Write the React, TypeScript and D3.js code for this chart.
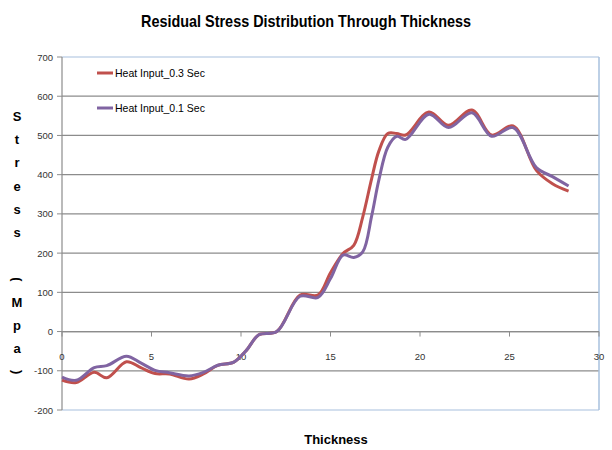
import React from "react";
import * as d3 from "d3";

const thickness = [0, 0.8, 1.8, 2.5, 3.6, 4.4, 5.2, 6.0, 7.1, 7.9, 8.7, 9.6, 10.3, 11.0, 12.0, 13.3, 14.3, 15.0, 15.7, 16.3, 16.8, 17.3, 17.7, 18.2, 18.7, 19.2, 20.5, 21.6, 22.9, 24.0, 25.2, 26.5, 27.4, 28.3];
const heat03 = [-124, -130, -104, -118, -77, -92, -107, -108, -121, -108, -86, -78, -48, -8, 0, 93, 93, 150, 199, 220, 292, 390, 460, 505, 505, 501, 560, 526, 565, 501, 524, 411, 377, 358];
const heat01 = [-116, -124, -92, -87, -63, -80, -99, -105, -113, -104, -86, -78, -48, -8, 0, 90, 87, 135, 195, 189, 203, 295, 386, 470, 498, 490, 554, 520, 558, 498, 520, 418, 395, 371];
const seriesNames = ["Heat Input_0.3 Sec", "Heat Input_0.1 Sec"];
const xTicks = [0, 5, 10, 15, 20, 25, 30];
const yTicks = [-200, -100, 0, 100, 200, 300, 400, 500, 600, 700];
const yTitleChars = ["S", "t", "r", "e", "s", "s", " ", "(", "M", "p", "a", ")"];

const W = 612, H = 450;
const L = 62, R = 599, T = 57, B = 410;
const colors = ["#c0504d", "#8064a2"];
const font = "'Liberation Sans', Arial, sans-serif";

export default function App() {
  const x = d3.scaleLinear().domain([0, 30]).range([L, R]);
  const y = d3.scaleLinear().domain([-200, 700]).range([B, T]);
  const line = d3
    .line<number>()
    .x((_, i) => x(thickness[i]))
    .y((d) => y(d))
    .curve(d3.curveCatmullRom.alpha(0.5));
  const series = [heat03, heat01];
  const y0 = y(0);

  return (
    <svg width={W} height={H} style={{ position: "absolute", left: 0, top: 0, background: "#fff" }}>
      <rect x={0} y={0} width={W} height={H} fill="#fff" />
      <text x={306} y={27} textAnchor="middle" fontFamily={font} fontWeight="bold" fontSize={17} textLength={330} lengthAdjust="spacingAndGlyphs" fill="#000">
        Residual Stress Distribution Through Thickness
      </text>
      {/* gridlines */}
      {yTicks.map((t) => (
        <line key={"g" + t} x1={L} x2={R} y1={y(t)} y2={y(t)} stroke={t === 700 || t === -200 ? "#a7c0de" : "#8c8c8c"} strokeWidth={1.2} />
      ))}
      {/* plot border */}
      <line x1={R} x2={R} y1={T} y2={B} stroke="#a7c0de" strokeWidth={1.5} />
      {/* y axis */}
      <line x1={L} x2={L} y1={T} y2={B} stroke="#8c8c8c" strokeWidth={1.2} />
      {yTicks.map((t) => (
        <g key={"y" + t}>
          <line x1={L - 5} x2={L} y1={y(t)} y2={y(t)} stroke="#8c8c8c" />
          <text x={53} y={y(t) + 3.5} textAnchor="end" fontFamily={font} fontSize={9.5} fill="#333">
            {t}
          </text>
        </g>
      ))}
      {/* x axis at 0 */}
      <line x1={L} x2={R} y1={y0} y2={y0} stroke="#8c8c8c" strokeWidth={1.2} />
      {xTicks.map((t) => (
        <g key={"x" + t}>
          <line x1={x(t)} x2={x(t)} y1={y0} y2={y0 + 5} stroke="#8c8c8c" />
          <text x={x(t)} y={360} textAnchor="middle" fontFamily={font} fontSize={9.5} fill="#333">
            {t}
          </text>
        </g>
      ))}
      {/* series */}
      {series.map((s, i) => (
        <path key={"s" + i} d={line(s) || ""} fill="none" stroke={colors[i]} strokeWidth={3} strokeLinejoin="round" />
      ))}
      {/* legend */}
      {seriesNames.map((n, i) => (
        <g key={"l" + i}>
          <line x1={97} x2={113} y1={73 + i * 35} y2={73 + i * 35} stroke={colors[i]} strokeWidth={3} />
          <text x={115} y={77 + i * 35} fontFamily={font} fontSize={10.5} fill="#000">
            {n}
          </text>
        </g>
      ))}
      {/* y title */}
      {yTitleChars.map((c, i) => {
        const cy = 121 + i * 23.2;
        if (c === "(" || c === ")") {
          return (
            <text key={"t" + i} x={17} y={cy} textAnchor="middle" fontFamily={font} fontWeight="bold" fontSize={13} fill="#000" transform={`rotate(90 17 ${cy - 4})`}>
              {c}
            </text>
          );
        }
        return (
          <text key={"t" + i} x={17} y={cy} textAnchor="middle" fontFamily={font} fontWeight="bold" fontSize={13} fill="#000">
            {c}
          </text>
        );
      })}
      <text x={336} y={444} textAnchor="middle" fontFamily={font} fontWeight="bold" fontSize={13} fill="#000">
        Thickness
      </text>
    </svg>
  );
}
